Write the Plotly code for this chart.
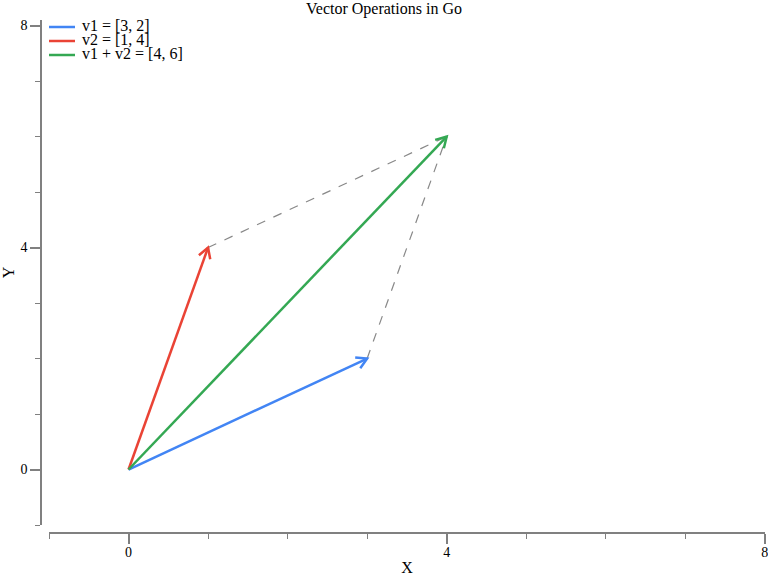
import math
import plotly.graph_objects as go

# ---- data ----
v1 = [3, 2]
v2 = [1, 4]
vsum = [v1[0] + v2[0], v1[1] + v2[1]]
names = ["v1 = [3, 2]", "v2 = [1, 4]", "v1 + v2 = [4, 6]"]
colors = ["#4285F4", "#EA4335", "#34A853"]
x_range = [-1, 8.002]
y_range = [-1, 8.1]
tick_vals = [0, 4, 8]
tick_text = ["0", "4", "8"]

# ---- layout geometry (pixels) ----
W, H = 768, 576
ML, MR, MT, MB = 41, 3, 20, 43
plot_w = W - ML - MR
plot_h = H - MT - MB
x_dom = [(49 - ML) / plot_w, 1.0]
y_dom = [(533 - 525) / plot_h, 1.0]
px_x = plot_w * (x_dom[1] - x_dom[0]) / (x_range[1] - x_range[0])
px_y = plot_h * (y_dom[1] - y_dom[0]) / (y_range[1] - y_range[0])


def paper_x(px):
    return (px - ML) / plot_w


def paper_y(py):
    return (H - MB - py) / plot_h


FONT = "Liberation Serif, Times New Roman, serif"

fig = go.Figure()

# dashed parallelogram guides
for tip in (v2, v1):
    fig.add_trace(go.Scatter(x=[tip[0], vsum[0]], y=[tip[1], vsum[1]], mode="lines",
                             line=dict(color="#888888", width=1.2, dash="dash"),
                             showlegend=False, hoverinfo="skip"))


def head(vx, vy, L=12, ang=30):
    # open chevron in pixel space, converted back to data units
    dx, dy = vx * px_x, vy * px_y
    a = math.atan2(dy, dx)
    pts_x, pts_y = [], []
    for s in (1, -1):
        b = a + math.pi + s * math.radians(ang)
        pts_x.append(vx + L * math.cos(b) / px_x)
        pts_y.append(vy + L * math.sin(b) / px_y)
    return [pts_x[0], vx, pts_x[1]], [pts_y[0], vy, pts_y[1]]


for v, name, c in zip([v1, v2, vsum], names, colors):
    fig.add_trace(go.Scatter(x=[0, v[0]], y=[0, v[1]], mode="lines",
                             line=dict(color=c, width=2.5), name=name,
                             showlegend=False, hoverinfo="skip"))
    hx, hy = head(v[0], v[1])
    fig.add_trace(go.Scatter(x=hx, y=hy, mode="lines",
                             line=dict(color=c, width=2.5), showlegend=False,
                             hoverinfo="skip"))

# compact legend (rows 14 px apart, like the reference)
for i, (name, c) in enumerate(zip(names, colors)):
    ly = 27 + 14 * i
    fig.add_shape(type="line", xref="paper", yref="paper",
                  x0=paper_x(49), x1=paper_x(75), y0=paper_y(ly), y1=paper_y(ly),
                  line=dict(color=c, width=2.5))
    fig.add_annotation(text=name, xref="paper", yref="paper",
                       x=paper_x(80), y=paper_y(ly - 1.5), xanchor="left",
                       yanchor="middle", showarrow=False,
                       font=dict(family=FONT, size=16, color="black"))

axis_common = dict(
    showgrid=False, zeroline=False, showline=True, linecolor="#808080",
    linewidth=1.5, ticks="outside", ticklen=10, tickwidth=1.5,
    tickcolor="#808080", tickvals=tick_vals, ticktext=tick_text,
    tickfont=dict(family=FONT, size=14, color="black"),
    ticklabeloverflow="allow",
    minor=dict(dtick=1, ticks="outside", ticklen=5, tickwidth=1.2,
               tickcolor="#808080", showgrid=False),
    anchor="free", position=0, fixedrange=True, automargin=False,
)

fig.update_layout(
    width=W, height=H,
    margin=dict(l=ML, r=MR, t=MT, b=MB, autoexpand=False),
    paper_bgcolor="white", plot_bgcolor="white",
    font=dict(family=FONT, color="black"),
    title=dict(text="Vector Operations in Go", x=0.5, xanchor="center",
               y=1 - 8 / H, yanchor="middle",
               font=dict(family=FONT, size=16, color="black")),
    xaxis=dict(range=x_range, domain=x_dom, ticklabelstandoff=-4,
               title=dict(text="X", font=dict(family=FONT, size=16), standoff=3),
               **axis_common),
    yaxis=dict(range=y_range, domain=y_dom,
               title=dict(text="Y", font=dict(family=FONT, size=16), standoff=6),
               **axis_common),
    showlegend=False,
)

fig.write_html("out.html", config={"displayModeBar": False},
               post_script="document.body.style.margin='0px';"
                           "document.body.style.overflow='hidden';")
